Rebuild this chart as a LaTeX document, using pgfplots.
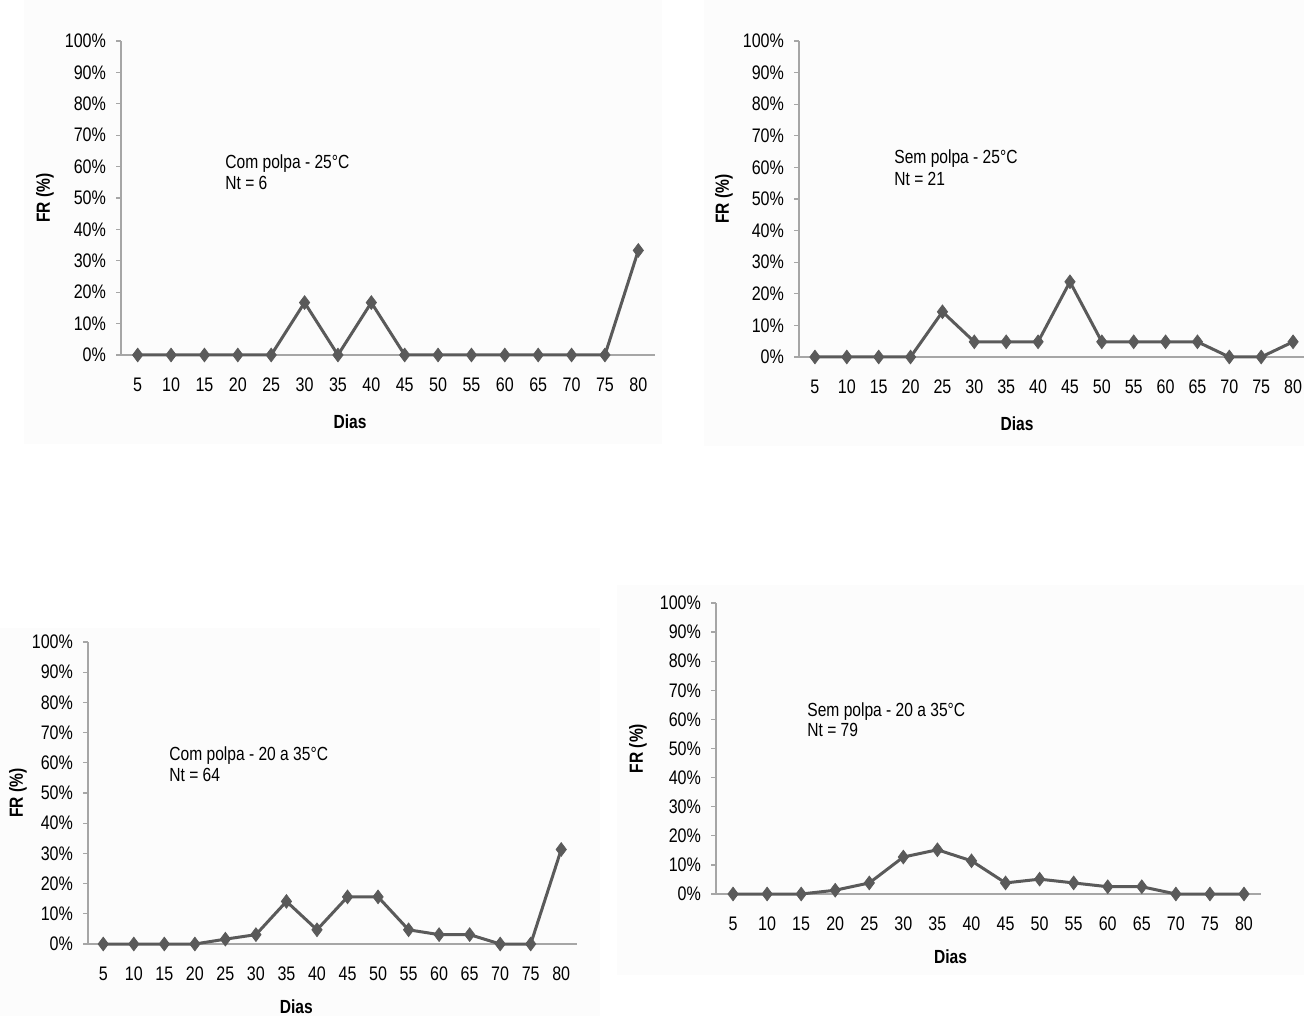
\documentclass[border=0pt]{standalone}
\usepackage{fontspec}
\setmainfont{Liberation Sans}[FakeStretch=0.82]
\usepackage{pgfplots}
\pgfplotsset{compat=1.18}
\definecolor{linec}{HTML}{5A5A5A}
\definecolor{axc}{HTML}{A6A6A6}
\pgfplotsset{
  panel/.style={
    scale only axis, clip=false,
    axis x line=bottom, axis y line=left,
    axis line style={-, draw=axc, line width=0.6pt},
    xmin=0.5, xmax=16.5, ymin=0, ymax=100,
    xtick={1,...,16},
    xticklabels={5,10,15,20,25,30,35,40,45,50,55,60,65,70,75,80},
    ytick={0,10,...,100},
    yticklabels={0\%,10\%,20\%,30\%,40\%,50\%,60\%,70\%,80\%,90\%,100\%},
    x tick style={draw=none},
    y tick style={draw=axc, line width=0.6pt},
    tick align=outside, major tick length=2.5pt,
    /pgf/number format/assume math mode=true,
    tick label style={font=\fontsize{9.8}{11}\selectfont, text=black},
    xticklabel style={yshift=-5.5pt},
    yticklabel style={xshift=-1.5pt},
    label style={font=\fontsize{9.5}{11}\selectfont\bfseries},
    xlabel={Dias}, ylabel={FR (\%)},
  },
  serie/.style={color=linec, line width=1.5pt, mark=diamond*, mark size=3.4pt, mark options={fill=linec, draw=linec, line width=0.4pt}},
}
\begin{document}
\begin{tikzpicture}
\path[use as bounding box] (0,0) rectangle (652pt,508pt);
\fill[black!1] (12pt,286pt) rectangle (331pt,508pt);
\fill[black!1] (352pt,285pt) rectangle (652pt,508pt);
\fill[black!1] (0pt,0pt) rectangle (300pt,194pt);
\fill[black!1] (308.5pt,20.5pt) rectangle (652pt,215.5pt);

% Panel 1
\begin{axis}[panel, at={(60.5pt,330.5pt)}, anchor=south west, width=267pt, height=157pt,
  xlabel style={at={(axis description cs:0.5,0)}, anchor=center, xshift=-19pt, yshift=-33.5pt},
  ylabel style={at={(axis description cs:0,0.5)}, anchor=center, yshift=38pt}]
\addplot[serie] coordinates {(1,0)(2,0)(3,0)(4,0)(5,0)(6,16.7)(7,0)(8,16.7)(9,0)(10,0)(11,0)(12,0)(13,0)(14,0)(15,0)(16,33.3)};
\end{axis}
\node[anchor=base west, inner sep=0, font=\fontsize{9.5}{11}\selectfont] at (112.5pt,423.6pt) {Com polpa - 25°C};
\node[anchor=base west, inner sep=0, font=\fontsize{9.5}{11}\selectfont] at (112.5pt,413.1pt) {Nt = 6};

% Panel 2
\begin{axis}[panel, at={(399.5pt,329.5pt)}, anchor=south west, width=255pt, height=158pt,
  xlabel style={at={(axis description cs:0.5,0)}, anchor=center, xshift=-18.5pt, yshift=-33.5pt},
  ylabel style={at={(axis description cs:0,0.5)}, anchor=center, yshift=37.5pt}]
\addplot[serie] coordinates {(1,0)(2,0)(3,0)(4,0)(5,14.3)(6,4.8)(7,4.8)(8,4.8)(9,23.8)(10,4.8)(11,4.8)(12,4.8)(13,4.8)(14,0)(15,0)(16,4.8)};
\end{axis}
\node[anchor=base west, inner sep=0, font=\fontsize{9.5}{11}\selectfont] at (447pt,426.1pt) {Sem polpa - 25°C};
\node[anchor=base west, inner sep=0, font=\fontsize{9.5}{11}\selectfont] at (447pt,415.1pt) {Nt = 21};

% Panel 3
\begin{axis}[panel, at={(44pt,36pt)}, anchor=south west, width=244.25pt, height=151pt,
  xlabel style={at={(axis description cs:0.5,0)}, anchor=center, xshift=-18pt, yshift=-31.5pt},
  ylabel style={at={(axis description cs:0,0.5)}, anchor=center, yshift=35pt}]
\addplot[serie] coordinates {(1,0)(2,0)(3,0)(4,0)(5,1.6)(6,3.1)(7,14.1)(8,4.7)(9,15.6)(10,15.6)(11,4.7)(12,3.1)(13,3.1)(14,0)(15,0)(16,31.3)};
\end{axis}
\node[anchor=base west, inner sep=0, font=\fontsize{9.5}{11}\selectfont] at (84.5pt,127.6pt) {Com polpa - 20 a 35°C};
\node[anchor=base west, inner sep=0, font=\fontsize{9.5}{11}\selectfont] at (84.5pt,117.1pt) {Nt = 64};

% Panel 4
\begin{axis}[panel, at={(358pt,61pt)}, anchor=south west, width=272.5pt, height=145.5pt,
  xlabel style={at={(axis description cs:0.5,0)}, anchor=center, xshift=-19pt, yshift=-31.5pt},
  ylabel style={at={(axis description cs:0,0.5)}, anchor=center, yshift=39pt}]
\addplot[serie] coordinates {(1,0)(2,0)(3,0)(4,1.3)(5,3.8)(6,12.7)(7,15.2)(8,11.4)(9,3.8)(10,5.1)(11,3.8)(12,2.5)(13,2.5)(14,0)(15,0)(16,0)};
\end{axis}
\node[anchor=base west, inner sep=0, font=\fontsize{9.5}{11}\selectfont] at (403.5pt,149.6pt) {Sem polpa - 20 a 35°C};
\node[anchor=base west, inner sep=0, font=\fontsize{9.5}{11}\selectfont] at (403.5pt,139.6pt) {Nt = 79};
\end{tikzpicture}
\end{document}
